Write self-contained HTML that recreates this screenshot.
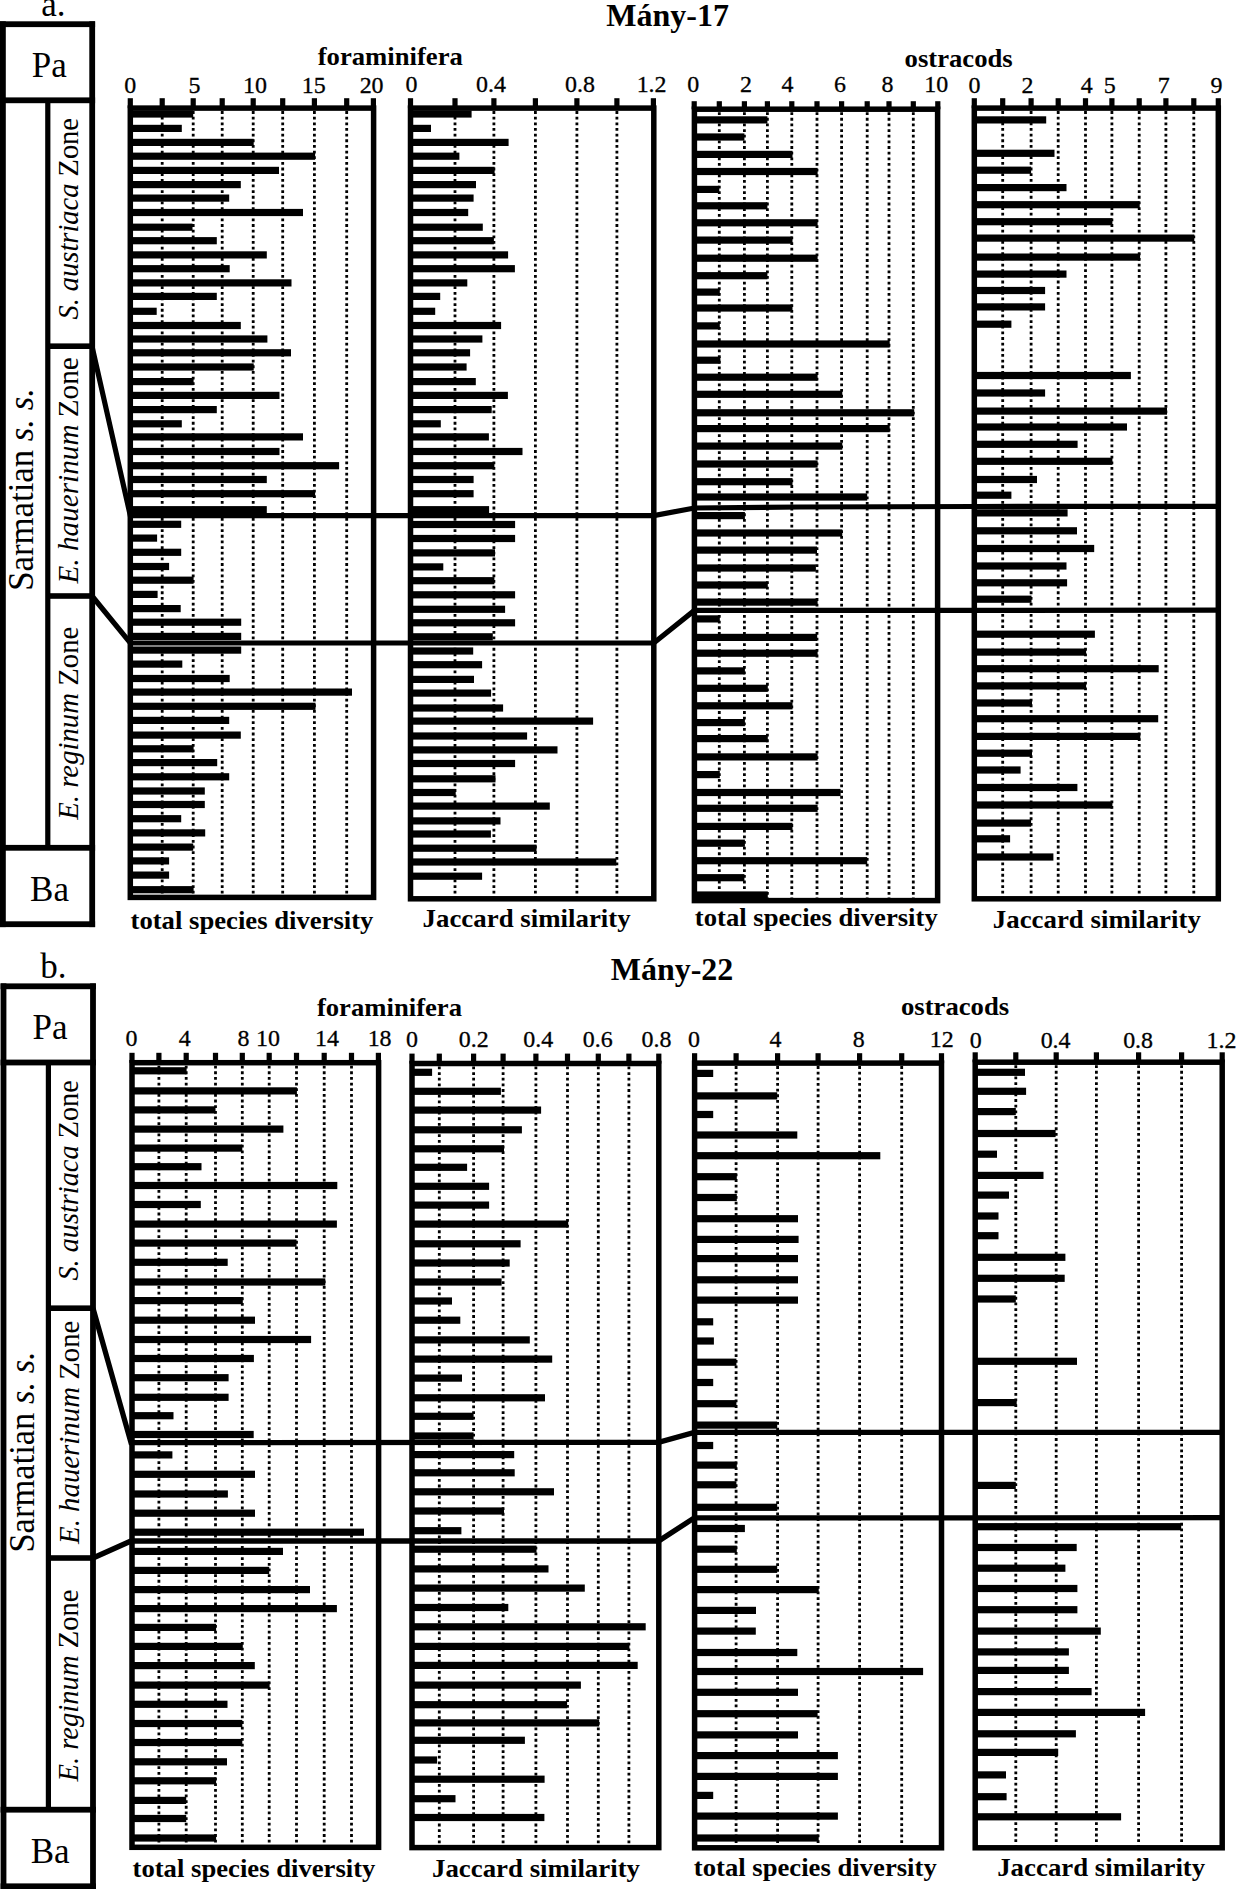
<!DOCTYPE html>
<html><head><meta charset="utf-8"><title>Mány-17 and Mány-22 diversity</title>
<style>html,body{margin:0;padding:0;background:#fff}svg{display:block}</style></head>
<body>
<svg width="1236" height="1889" viewBox="0 0 1236 1889" font-family="'Liberation Serif', 'Times New Roman', serif" fill="#000">
<rect x="0" y="0" width="1236" height="1889" fill="#fff"/>
<g id="A1">
<line x1="162.2" y1="111.1" x2="162.2" y2="897.4" stroke="#000" stroke-width="2.8" stroke-dasharray="2.8 2.85"/>
<line x1="193.2" y1="111.1" x2="193.2" y2="897.4" stroke="#000" stroke-width="2.8" stroke-dasharray="2.8 2.85"/>
<line x1="222.2" y1="111.1" x2="222.2" y2="897.4" stroke="#000" stroke-width="2.8" stroke-dasharray="2.8 2.85"/>
<line x1="253.2" y1="111.1" x2="253.2" y2="897.4" stroke="#000" stroke-width="2.8" stroke-dasharray="2.8 2.85"/>
<line x1="282.7" y1="111.1" x2="282.7" y2="897.4" stroke="#000" stroke-width="2.8" stroke-dasharray="2.8 2.85"/>
<line x1="314.4" y1="111.1" x2="314.4" y2="897.4" stroke="#000" stroke-width="2.8" stroke-dasharray="2.8 2.85"/>
<line x1="346.7" y1="111.1" x2="346.7" y2="897.4" stroke="#000" stroke-width="2.8" stroke-dasharray="2.8 2.85"/>
<rect x="130.3" y="110.4" width="62.9" height="7.2"/>
<rect x="130.3" y="124.8" width="51.5" height="7.2"/>
<rect x="130.3" y="138.8" width="123.4" height="7.2"/>
<rect x="130.3" y="152.6" width="184.8" height="7.2"/>
<rect x="130.3" y="166.8" width="148.7" height="7.2"/>
<rect x="130.3" y="181.0" width="110.5" height="7.2"/>
<rect x="130.3" y="194.5" width="98.9" height="7.2"/>
<rect x="130.3" y="208.9" width="172.7" height="7.2"/>
<rect x="130.3" y="223.6" width="62.2" height="7.2"/>
<rect x="130.3" y="237.1" width="86.5" height="7.2"/>
<rect x="130.3" y="251.3" width="136.5" height="7.2"/>
<rect x="130.3" y="265.1" width="99.4" height="7.2"/>
<rect x="130.3" y="279.3" width="161.2" height="7.2"/>
<rect x="130.3" y="292.8" width="86.5" height="7.2"/>
<rect x="130.3" y="307.7" width="26.4" height="7.2"/>
<rect x="130.3" y="321.9" width="110.5" height="7.2"/>
<rect x="130.3" y="335.4" width="137.1" height="7.2"/>
<rect x="130.3" y="349.2" width="160.7" height="7.2"/>
<rect x="130.3" y="363.4" width="123.4" height="7.2"/>
<rect x="130.3" y="378.0" width="63.3" height="7.2"/>
<rect x="130.3" y="391.8" width="149.2" height="7.2"/>
<rect x="130.3" y="406.0" width="86.5" height="7.2"/>
<rect x="130.3" y="420.2" width="51.5" height="7.2"/>
<rect x="130.3" y="433.3" width="172.7" height="7.2"/>
<rect x="130.3" y="447.9" width="149.2" height="7.2"/>
<rect x="130.3" y="462.1" width="208.8" height="7.2"/>
<rect x="130.3" y="475.9" width="136.5" height="7.2"/>
<rect x="130.3" y="490.1" width="184.8" height="7.2"/>
<rect x="130.3" y="506.1" width="136.5" height="7.2"/>
<rect x="130.3" y="520.7" width="50.9" height="7.2"/>
<rect x="130.3" y="534.5" width="26.8" height="7.2"/>
<rect x="130.3" y="548.7" width="50.9" height="7.2"/>
<rect x="130.3" y="562.9" width="38.8" height="7.2"/>
<rect x="130.3" y="576.6" width="63.3" height="7.2"/>
<rect x="130.3" y="590.8" width="27.3" height="7.2"/>
<rect x="130.3" y="605.0" width="50.4" height="7.2"/>
<rect x="130.3" y="618.6" width="110.9" height="7.2"/>
<rect x="130.3" y="632.8" width="110.9" height="7.2"/>
<rect x="130.3" y="646.5" width="110.9" height="7.2"/>
<rect x="130.3" y="660.5" width="52.0" height="7.2"/>
<rect x="130.3" y="674.9" width="99.4" height="7.2"/>
<rect x="130.3" y="688.5" width="221.7" height="7.2"/>
<rect x="130.3" y="702.7" width="185.2" height="7.2"/>
<rect x="130.3" y="716.8" width="98.9" height="7.2"/>
<rect x="130.3" y="731.5" width="110.5" height="7.2"/>
<rect x="130.3" y="745.2" width="63.3" height="7.2"/>
<rect x="130.3" y="759.0" width="86.9" height="7.2"/>
<rect x="130.3" y="773.2" width="98.9" height="7.2"/>
<rect x="130.3" y="787.4" width="74.5" height="7.2"/>
<rect x="130.3" y="800.9" width="74.5" height="7.2"/>
<rect x="130.3" y="815.1" width="50.9" height="7.2"/>
<rect x="130.3" y="829.3" width="74.9" height="7.2"/>
<rect x="130.3" y="843.5" width="62.9" height="7.2"/>
<rect x="130.3" y="857.3" width="38.8" height="7.2"/>
<rect x="130.3" y="871.5" width="38.8" height="7.2"/>
<rect x="130.3" y="886.1" width="63.3" height="7.2"/>
<rect x="130.3" y="108.1" width="243.3" height="789.3" fill="none" stroke="#000" stroke-width="5.5"/>
<rect x="127.7" y="98.2" width="5.2" height="10.0"/>
<rect x="159.6" y="98.2" width="5.2" height="10.0"/>
<rect x="190.6" y="98.2" width="5.2" height="10.0"/>
<rect x="219.6" y="98.2" width="5.2" height="10.0"/>
<rect x="250.6" y="98.2" width="5.2" height="10.0"/>
<rect x="280.1" y="98.2" width="5.2" height="10.0"/>
<rect x="311.8" y="98.2" width="5.2" height="10.0"/>
<rect x="344.1" y="98.2" width="5.2" height="10.0"/>
<rect x="370.8" y="98.2" width="5.2" height="10.0"/>
</g>
<g id="A2">
<line x1="455.0" y1="111.1" x2="455.0" y2="898.8" stroke="#000" stroke-width="2.8" stroke-dasharray="2.8 2.85"/>
<line x1="493.9" y1="111.1" x2="493.9" y2="898.8" stroke="#000" stroke-width="2.8" stroke-dasharray="2.8 2.85"/>
<line x1="535.4" y1="111.1" x2="535.4" y2="898.8" stroke="#000" stroke-width="2.8" stroke-dasharray="2.8 2.85"/>
<line x1="576.9" y1="111.1" x2="576.9" y2="898.8" stroke="#000" stroke-width="2.8" stroke-dasharray="2.8 2.85"/>
<line x1="616.9" y1="111.1" x2="616.9" y2="898.8" stroke="#000" stroke-width="2.8" stroke-dasharray="2.8 2.85"/>
<rect x="410.5" y="110.4" width="61.1" height="7.2"/>
<rect x="410.5" y="124.8" width="20.5" height="7.2"/>
<rect x="410.5" y="138.8" width="98.1" height="7.2"/>
<rect x="410.5" y="152.6" width="48.9" height="7.2"/>
<rect x="410.5" y="166.8" width="84.1" height="7.2"/>
<rect x="410.5" y="181.0" width="65.5" height="7.2"/>
<rect x="410.5" y="194.5" width="63.1" height="7.2"/>
<rect x="410.5" y="208.9" width="57.7" height="7.2"/>
<rect x="410.5" y="223.6" width="72.3" height="7.2"/>
<rect x="410.5" y="237.1" width="83.4" height="7.2"/>
<rect x="410.5" y="251.3" width="97.6" height="7.2"/>
<rect x="410.5" y="265.1" width="104.4" height="7.2"/>
<rect x="410.5" y="279.3" width="56.8" height="7.2"/>
<rect x="410.5" y="292.8" width="29.7" height="7.2"/>
<rect x="410.5" y="307.7" width="24.7" height="7.2"/>
<rect x="410.5" y="321.9" width="90.6" height="7.2"/>
<rect x="410.5" y="335.4" width="71.9" height="7.2"/>
<rect x="410.5" y="349.2" width="59.6" height="7.2"/>
<rect x="410.5" y="363.4" width="56.1" height="7.2"/>
<rect x="410.5" y="378.0" width="65.3" height="7.2"/>
<rect x="410.5" y="391.8" width="97.4" height="7.2"/>
<rect x="410.5" y="406.0" width="81.2" height="7.2"/>
<rect x="410.5" y="420.2" width="30.3" height="7.2"/>
<rect x="410.5" y="433.3" width="78.4" height="7.2"/>
<rect x="410.5" y="447.9" width="112.0" height="7.2"/>
<rect x="410.5" y="462.1" width="83.9" height="7.2"/>
<rect x="410.5" y="475.9" width="63.1" height="7.2"/>
<rect x="410.5" y="490.1" width="63.1" height="7.2"/>
<rect x="410.5" y="506.1" width="78.6" height="7.2"/>
<rect x="410.5" y="520.9" width="104.6" height="7.2"/>
<rect x="410.5" y="534.9" width="104.6" height="7.2"/>
<rect x="410.5" y="549.3" width="84.5" height="7.2"/>
<rect x="410.5" y="563.3" width="32.8" height="7.2"/>
<rect x="410.5" y="577.1" width="83.9" height="7.2"/>
<rect x="410.5" y="591.2" width="104.6" height="7.2"/>
<rect x="410.5" y="605.7" width="94.6" height="7.2"/>
<rect x="410.5" y="619.2" width="104.6" height="7.2"/>
<rect x="410.5" y="633.2" width="82.3" height="7.2"/>
<rect x="410.5" y="647.4" width="62.7" height="7.2"/>
<rect x="410.5" y="661.1" width="71.6" height="7.2"/>
<rect x="410.5" y="675.8" width="63.5" height="7.2"/>
<rect x="410.5" y="689.5" width="80.6" height="7.2"/>
<rect x="410.5" y="704.4" width="92.6" height="7.2"/>
<rect x="410.5" y="717.5" width="182.6" height="7.2"/>
<rect x="410.5" y="732.4" width="116.6" height="7.2"/>
<rect x="410.5" y="746.3" width="147.0" height="7.2"/>
<rect x="410.5" y="759.9" width="104.6" height="7.2"/>
<rect x="410.5" y="775.2" width="85.0" height="7.2"/>
<rect x="410.5" y="788.9" width="45.2" height="7.2"/>
<rect x="410.5" y="802.5" width="139.3" height="7.2"/>
<rect x="410.5" y="817.3" width="90.0" height="7.2"/>
<rect x="410.5" y="830.4" width="80.4" height="7.2"/>
<rect x="410.5" y="844.6" width="126.0" height="7.2"/>
<rect x="410.5" y="858.4" width="205.8" height="7.2"/>
<rect x="410.5" y="872.6" width="71.6" height="7.2"/>
<rect x="410.5" y="108.1" width="243.3" height="790.7" fill="none" stroke="#000" stroke-width="5.5"/>
<rect x="407.9" y="98.2" width="5.2" height="10.0"/>
<rect x="452.4" y="98.2" width="5.2" height="10.0"/>
<rect x="491.3" y="98.2" width="5.2" height="10.0"/>
<rect x="532.8" y="98.2" width="5.2" height="10.0"/>
<rect x="574.3" y="98.2" width="5.2" height="10.0"/>
<rect x="614.3" y="98.2" width="5.2" height="10.0"/>
<rect x="650.8" y="98.2" width="5.2" height="10.0"/>
</g>
<g id="A3">
<line x1="719.3" y1="112.2" x2="719.3" y2="900.6" stroke="#000" stroke-width="2.8" stroke-dasharray="2.8 2.85"/>
<line x1="744.4" y1="112.2" x2="744.4" y2="900.6" stroke="#000" stroke-width="2.8" stroke-dasharray="2.8 2.85"/>
<line x1="767.4" y1="112.2" x2="767.4" y2="900.6" stroke="#000" stroke-width="2.8" stroke-dasharray="2.8 2.85"/>
<line x1="791.8" y1="112.2" x2="791.8" y2="900.6" stroke="#000" stroke-width="2.8" stroke-dasharray="2.8 2.85"/>
<line x1="817.0" y1="112.2" x2="817.0" y2="900.6" stroke="#000" stroke-width="2.8" stroke-dasharray="2.8 2.85"/>
<line x1="841.6" y1="112.2" x2="841.6" y2="900.6" stroke="#000" stroke-width="2.8" stroke-dasharray="2.8 2.85"/>
<line x1="867.2" y1="112.2" x2="867.2" y2="900.6" stroke="#000" stroke-width="2.8" stroke-dasharray="2.8 2.85"/>
<line x1="889.0" y1="112.2" x2="889.0" y2="900.6" stroke="#000" stroke-width="2.8" stroke-dasharray="2.8 2.85"/>
<line x1="913.3" y1="112.2" x2="913.3" y2="900.6" stroke="#000" stroke-width="2.8" stroke-dasharray="2.8 2.85"/>
<rect x="694.4" y="116.3" width="73.0" height="7.2"/>
<rect x="694.4" y="133.4" width="50.0" height="7.2"/>
<rect x="694.4" y="150.8" width="98.1" height="7.2"/>
<rect x="694.4" y="167.9" width="123.2" height="7.2"/>
<rect x="694.4" y="185.8" width="24.9" height="7.2"/>
<rect x="694.4" y="202.2" width="73.0" height="7.2"/>
<rect x="694.4" y="219.2" width="123.2" height="7.2"/>
<rect x="694.4" y="236.5" width="98.1" height="7.2"/>
<rect x="694.4" y="254.6" width="123.2" height="7.2"/>
<rect x="694.4" y="272.1" width="73.0" height="7.2"/>
<rect x="694.4" y="288.5" width="25.4" height="7.2"/>
<rect x="694.4" y="304.4" width="98.1" height="7.2"/>
<rect x="694.4" y="322.3" width="25.4" height="7.2"/>
<rect x="694.4" y="340.4" width="195.3" height="7.2"/>
<rect x="694.4" y="356.6" width="26.0" height="7.2"/>
<rect x="694.4" y="373.6" width="123.2" height="7.2"/>
<rect x="694.4" y="390.7" width="147.9" height="7.2"/>
<rect x="694.4" y="409.2" width="219.8" height="7.2"/>
<rect x="694.4" y="425.0" width="195.3" height="7.2"/>
<rect x="694.4" y="442.5" width="147.9" height="7.2"/>
<rect x="694.4" y="460.4" width="123.2" height="7.2"/>
<rect x="694.4" y="478.1" width="98.1" height="7.2"/>
<rect x="694.4" y="493.4" width="172.8" height="7.2"/>
<rect x="694.4" y="512.0" width="50.5" height="7.2"/>
<rect x="694.4" y="529.4" width="147.9" height="7.2"/>
<rect x="694.4" y="546.5" width="122.6" height="7.2"/>
<rect x="694.4" y="564.4" width="121.5" height="7.2"/>
<rect x="694.4" y="581.4" width="73.4" height="7.2"/>
<rect x="694.4" y="598.5" width="123.2" height="7.2"/>
<rect x="694.4" y="615.3" width="25.4" height="7.2"/>
<rect x="694.4" y="633.8" width="122.8" height="7.2"/>
<rect x="694.4" y="649.6" width="123.2" height="7.2"/>
<rect x="694.4" y="667.3" width="50.5" height="7.2"/>
<rect x="694.4" y="684.7" width="73.4" height="7.2"/>
<rect x="694.4" y="702.2" width="98.1" height="7.2"/>
<rect x="694.4" y="719.0" width="50.5" height="7.2"/>
<rect x="694.4" y="735.0" width="73.4" height="7.2"/>
<rect x="694.4" y="753.3" width="123.2" height="7.2"/>
<rect x="694.4" y="771.0" width="25.4" height="7.2"/>
<rect x="694.4" y="788.9" width="146.2" height="7.2"/>
<rect x="694.4" y="804.7" width="123.2" height="7.2"/>
<rect x="694.4" y="822.8" width="98.1" height="7.2"/>
<rect x="694.4" y="839.6" width="50.5" height="7.2"/>
<rect x="694.4" y="857.1" width="172.8" height="7.2"/>
<rect x="694.4" y="874.1" width="50.0" height="7.2"/>
<rect x="694.4" y="891.4" width="73.4" height="7.2"/>
<rect x="694.4" y="109.2" width="243.2" height="791.4" fill="none" stroke="#000" stroke-width="5.5"/>
<rect x="691.6" y="101.2" width="5.2" height="8.1"/>
<rect x="716.7" y="101.2" width="5.2" height="8.1"/>
<rect x="741.8" y="101.2" width="5.2" height="8.1"/>
<rect x="764.8" y="101.2" width="5.2" height="8.1"/>
<rect x="789.2" y="101.2" width="5.2" height="8.1"/>
<rect x="814.4" y="101.2" width="5.2" height="8.1"/>
<rect x="839.0" y="101.2" width="5.2" height="8.1"/>
<rect x="864.6" y="101.2" width="5.2" height="8.1"/>
<rect x="886.4" y="101.2" width="5.2" height="8.1"/>
<rect x="910.7" y="101.2" width="5.2" height="8.1"/>
<rect x="935.2" y="101.2" width="5.2" height="8.1"/>
</g>
<g id="A4">
<line x1="1002.7" y1="111.1" x2="1002.7" y2="898.8" stroke="#000" stroke-width="2.8" stroke-dasharray="2.8 2.85"/>
<line x1="1031.1" y1="111.1" x2="1031.1" y2="898.8" stroke="#000" stroke-width="2.8" stroke-dasharray="2.8 2.85"/>
<line x1="1058.2" y1="111.1" x2="1058.2" y2="898.8" stroke="#000" stroke-width="2.8" stroke-dasharray="2.8 2.85"/>
<line x1="1085.5" y1="111.1" x2="1085.5" y2="898.8" stroke="#000" stroke-width="2.8" stroke-dasharray="2.8 2.85"/>
<line x1="1111.9" y1="111.1" x2="1111.9" y2="898.8" stroke="#000" stroke-width="2.8" stroke-dasharray="2.8 2.85"/>
<line x1="1139.2" y1="111.1" x2="1139.2" y2="898.8" stroke="#000" stroke-width="2.8" stroke-dasharray="2.8 2.85"/>
<line x1="1165.9" y1="111.1" x2="1165.9" y2="898.8" stroke="#000" stroke-width="2.8" stroke-dasharray="2.8 2.85"/>
<line x1="1193.8" y1="111.1" x2="1193.8" y2="898.8" stroke="#000" stroke-width="2.8" stroke-dasharray="2.8 2.85"/>
<rect x="974.3" y="116.3" width="71.9" height="7.2"/>
<rect x="974.3" y="149.7" width="80.2" height="7.2"/>
<rect x="974.3" y="166.6" width="56.8" height="7.2"/>
<rect x="974.3" y="184.0" width="92.2" height="7.2"/>
<rect x="974.3" y="201.1" width="165.4" height="7.2"/>
<rect x="974.3" y="218.1" width="138.1" height="7.2"/>
<rect x="974.3" y="234.5" width="220.0" height="7.2"/>
<rect x="974.3" y="253.5" width="165.8" height="7.2"/>
<rect x="974.3" y="270.5" width="92.2" height="7.2"/>
<rect x="974.3" y="286.9" width="70.8" height="7.2"/>
<rect x="974.3" y="303.3" width="70.8" height="7.2"/>
<rect x="974.3" y="320.6" width="37.1" height="7.2"/>
<rect x="974.3" y="371.9" width="156.6" height="7.2"/>
<rect x="974.3" y="389.4" width="70.8" height="7.2"/>
<rect x="974.3" y="407.5" width="192.7" height="7.2"/>
<rect x="974.3" y="423.4" width="152.7" height="7.2"/>
<rect x="974.3" y="440.7" width="103.3" height="7.2"/>
<rect x="974.3" y="457.7" width="138.1" height="7.2"/>
<rect x="974.3" y="475.9" width="62.7" height="7.2"/>
<rect x="974.3" y="491.6" width="37.1" height="7.2"/>
<rect x="974.3" y="509.3" width="93.3" height="7.2"/>
<rect x="974.3" y="527.2" width="102.7" height="7.2"/>
<rect x="974.3" y="544.9" width="119.9" height="7.2"/>
<rect x="974.3" y="562.4" width="92.2" height="7.2"/>
<rect x="974.3" y="579.2" width="92.8" height="7.2"/>
<rect x="974.3" y="595.6" width="57.2" height="7.2"/>
<rect x="974.3" y="630.6" width="120.6" height="7.2"/>
<rect x="974.3" y="648.5" width="111.8" height="7.2"/>
<rect x="974.3" y="665.1" width="184.4" height="7.2"/>
<rect x="974.3" y="682.3" width="111.8" height="7.2"/>
<rect x="974.3" y="699.4" width="57.7" height="7.2"/>
<rect x="974.3" y="715.1" width="183.9" height="7.2"/>
<rect x="974.3" y="732.8" width="166.0" height="7.2"/>
<rect x="974.3" y="749.6" width="57.7" height="7.2"/>
<rect x="974.3" y="766.4" width="46.3" height="7.2"/>
<rect x="974.3" y="783.9" width="103.1" height="7.2"/>
<rect x="974.3" y="801.4" width="138.1" height="7.2"/>
<rect x="974.3" y="819.5" width="56.8" height="7.2"/>
<rect x="974.3" y="835.2" width="35.8" height="7.2"/>
<rect x="974.3" y="853.4" width="79.1" height="7.2"/>
<rect x="974.3" y="108.1" width="244.0" height="790.7" fill="none" stroke="#000" stroke-width="5.5"/>
<rect x="971.7" y="98.2" width="5.2" height="10.0"/>
<rect x="1000.1" y="98.2" width="5.2" height="10.0"/>
<rect x="1028.5" y="98.2" width="5.2" height="10.0"/>
<rect x="1055.6" y="98.2" width="5.2" height="10.0"/>
<rect x="1082.9" y="98.2" width="5.2" height="10.0"/>
<rect x="1109.3" y="98.2" width="5.2" height="10.0"/>
<rect x="1136.6" y="98.2" width="5.2" height="10.0"/>
<rect x="1163.3" y="98.2" width="5.2" height="10.0"/>
<rect x="1191.2" y="98.2" width="5.2" height="10.0"/>
<rect x="1215.7" y="98.2" width="5.2" height="10.0"/>
</g>
<g id="B1">
<line x1="158.9" y1="1065.7" x2="158.9" y2="1847.3" stroke="#000" stroke-width="2.8" stroke-dasharray="2.8 2.85"/>
<line x1="186.2" y1="1065.7" x2="186.2" y2="1847.3" stroke="#000" stroke-width="2.8" stroke-dasharray="2.8 2.85"/>
<line x1="215.5" y1="1065.7" x2="215.5" y2="1847.3" stroke="#000" stroke-width="2.8" stroke-dasharray="2.8 2.85"/>
<line x1="242.3" y1="1065.7" x2="242.3" y2="1847.3" stroke="#000" stroke-width="2.8" stroke-dasharray="2.8 2.85"/>
<line x1="269.2" y1="1065.7" x2="269.2" y2="1847.3" stroke="#000" stroke-width="2.8" stroke-dasharray="2.8 2.85"/>
<line x1="296.5" y1="1065.7" x2="296.5" y2="1847.3" stroke="#000" stroke-width="2.8" stroke-dasharray="2.8 2.85"/>
<line x1="324.2" y1="1065.7" x2="324.2" y2="1847.3" stroke="#000" stroke-width="2.8" stroke-dasharray="2.8 2.85"/>
<line x1="351.5" y1="1065.7" x2="351.5" y2="1847.3" stroke="#000" stroke-width="2.8" stroke-dasharray="2.8 2.85"/>
<rect x="132.0" y="1067.2" width="54.6" height="7.2"/>
<rect x="132.0" y="1087.3" width="164.9" height="7.2"/>
<rect x="132.0" y="1106.3" width="83.5" height="7.2"/>
<rect x="132.0" y="1125.5" width="151.4" height="7.2"/>
<rect x="132.0" y="1144.5" width="110.3" height="7.2"/>
<rect x="132.0" y="1163.1" width="69.5" height="7.2"/>
<rect x="132.0" y="1181.9" width="205.3" height="7.2"/>
<rect x="132.0" y="1200.9" width="68.8" height="7.2"/>
<rect x="132.0" y="1220.5" width="204.9" height="7.2"/>
<rect x="132.0" y="1239.5" width="164.5" height="7.2"/>
<rect x="132.0" y="1258.7" width="95.7" height="7.2"/>
<rect x="132.0" y="1278.4" width="193.3" height="7.2"/>
<rect x="132.0" y="1297.0" width="110.8" height="7.2"/>
<rect x="132.0" y="1316.6" width="123.0" height="7.2"/>
<rect x="132.0" y="1335.9" width="179.1" height="7.2"/>
<rect x="132.0" y="1354.9" width="121.9" height="7.2"/>
<rect x="132.0" y="1374.1" width="96.6" height="7.2"/>
<rect x="132.0" y="1393.7" width="96.6" height="7.2"/>
<rect x="132.0" y="1412.1" width="41.5" height="7.2"/>
<rect x="132.0" y="1430.9" width="121.7" height="7.2"/>
<rect x="132.0" y="1451.3" width="40.4" height="7.2"/>
<rect x="132.0" y="1470.7" width="123.0" height="7.2"/>
<rect x="132.0" y="1490.4" width="95.9" height="7.2"/>
<rect x="132.0" y="1509.6" width="123.0" height="7.2"/>
<rect x="132.0" y="1528.6" width="232.0" height="7.2"/>
<rect x="132.0" y="1547.8" width="151.0" height="7.2"/>
<rect x="132.0" y="1566.8" width="137.2" height="7.2"/>
<rect x="132.0" y="1586.0" width="178.0" height="7.2"/>
<rect x="132.0" y="1605.0" width="204.9" height="7.2"/>
<rect x="132.0" y="1623.8" width="84.1" height="7.2"/>
<rect x="132.0" y="1642.8" width="110.8" height="7.2"/>
<rect x="132.0" y="1662.0" width="122.8" height="7.2"/>
<rect x="132.0" y="1681.5" width="137.6" height="7.2"/>
<rect x="132.0" y="1700.7" width="95.5" height="7.2"/>
<rect x="132.0" y="1719.9" width="110.3" height="7.2"/>
<rect x="132.0" y="1738.9" width="110.3" height="7.2"/>
<rect x="132.0" y="1758.2" width="95.0" height="7.2"/>
<rect x="132.0" y="1777.2" width="84.1" height="7.2"/>
<rect x="132.0" y="1796.8" width="54.2" height="7.2"/>
<rect x="132.0" y="1814.9" width="54.2" height="7.2"/>
<rect x="132.0" y="1834.4" width="84.1" height="7.2"/>
<rect x="132.0" y="1062.7" width="246.6" height="784.6" fill="none" stroke="#000" stroke-width="5.5"/>
<rect x="129.4" y="1052.8" width="5.2" height="10.0"/>
<rect x="156.3" y="1052.8" width="5.2" height="10.0"/>
<rect x="183.6" y="1052.8" width="5.2" height="10.0"/>
<rect x="212.9" y="1052.8" width="5.2" height="10.0"/>
<rect x="239.7" y="1052.8" width="5.2" height="10.0"/>
<rect x="266.6" y="1052.8" width="5.2" height="10.0"/>
<rect x="293.9" y="1052.8" width="5.2" height="10.0"/>
<rect x="321.6" y="1052.8" width="5.2" height="10.0"/>
<rect x="348.9" y="1052.8" width="5.2" height="10.0"/>
<rect x="375.8" y="1052.8" width="5.2" height="10.0"/>
</g>
<g id="B2">
<line x1="439.3" y1="1066.5" x2="439.3" y2="1847.6" stroke="#000" stroke-width="2.8" stroke-dasharray="2.8 2.85"/>
<line x1="473.6" y1="1066.5" x2="473.6" y2="1847.6" stroke="#000" stroke-width="2.8" stroke-dasharray="2.8 2.85"/>
<line x1="503.1" y1="1066.5" x2="503.1" y2="1847.6" stroke="#000" stroke-width="2.8" stroke-dasharray="2.8 2.85"/>
<line x1="535.9" y1="1066.5" x2="535.9" y2="1847.6" stroke="#000" stroke-width="2.8" stroke-dasharray="2.8 2.85"/>
<line x1="567.5" y1="1066.5" x2="567.5" y2="1847.6" stroke="#000" stroke-width="2.8" stroke-dasharray="2.8 2.85"/>
<line x1="598.3" y1="1066.5" x2="598.3" y2="1847.6" stroke="#000" stroke-width="2.8" stroke-dasharray="2.8 2.85"/>
<line x1="628.9" y1="1066.5" x2="628.9" y2="1847.6" stroke="#000" stroke-width="2.8" stroke-dasharray="2.8 2.85"/>
<rect x="412.0" y="1068.7" width="20.1" height="7.2"/>
<rect x="412.0" y="1087.7" width="88.9" height="7.2"/>
<rect x="412.0" y="1106.5" width="129.1" height="7.2"/>
<rect x="412.0" y="1126.2" width="109.9" height="7.2"/>
<rect x="412.0" y="1145.2" width="92.0" height="7.2"/>
<rect x="412.0" y="1163.7" width="55.1" height="7.2"/>
<rect x="412.0" y="1182.7" width="77.1" height="7.2"/>
<rect x="412.0" y="1201.5" width="77.1" height="7.2"/>
<rect x="412.0" y="1220.5" width="156.2" height="7.2"/>
<rect x="412.0" y="1240.2" width="108.6" height="7.2"/>
<rect x="412.0" y="1259.4" width="97.7" height="7.2"/>
<rect x="412.0" y="1278.4" width="89.6" height="7.2"/>
<rect x="412.0" y="1297.4" width="40.0" height="7.2"/>
<rect x="412.0" y="1316.6" width="48.3" height="7.2"/>
<rect x="412.0" y="1336.3" width="117.8" height="7.2"/>
<rect x="412.0" y="1355.5" width="140.2" height="7.2"/>
<rect x="412.0" y="1374.5" width="50.0" height="7.2"/>
<rect x="412.0" y="1394.2" width="133.0" height="7.2"/>
<rect x="412.0" y="1412.7" width="61.6" height="7.2"/>
<rect x="412.0" y="1432.4" width="61.6" height="7.2"/>
<rect x="412.0" y="1451.0" width="102.2" height="7.2"/>
<rect x="412.0" y="1469.2" width="102.7" height="7.2"/>
<rect x="412.0" y="1488.2" width="142.0" height="7.2"/>
<rect x="412.0" y="1507.4" width="92.0" height="7.2"/>
<rect x="412.0" y="1527.1" width="49.4" height="7.2"/>
<rect x="412.0" y="1545.6" width="124.5" height="7.2"/>
<rect x="412.0" y="1565.3" width="136.5" height="7.2"/>
<rect x="412.0" y="1584.5" width="172.8" height="7.2"/>
<rect x="412.0" y="1603.9" width="96.3" height="7.2"/>
<rect x="412.0" y="1623.2" width="233.7" height="7.2"/>
<rect x="412.0" y="1642.8" width="217.4" height="7.2"/>
<rect x="412.0" y="1661.8" width="225.7" height="7.2"/>
<rect x="412.0" y="1681.5" width="168.9" height="7.2"/>
<rect x="412.0" y="1701.1" width="155.1" height="7.2"/>
<rect x="412.0" y="1719.3" width="187.2" height="7.2"/>
<rect x="412.0" y="1736.7" width="112.9" height="7.2"/>
<rect x="412.0" y="1756.4" width="25.1" height="7.2"/>
<rect x="412.0" y="1775.6" width="132.6" height="7.2"/>
<rect x="412.0" y="1795.1" width="43.5" height="7.2"/>
<rect x="412.0" y="1813.9" width="132.4" height="7.2"/>
<rect x="412.0" y="1063.5" width="246.8" height="784.1" fill="none" stroke="#000" stroke-width="5.5"/>
<rect x="409.4" y="1053.6" width="5.2" height="10.0"/>
<rect x="436.7" y="1053.6" width="5.2" height="10.0"/>
<rect x="471.0" y="1053.6" width="5.2" height="10.0"/>
<rect x="500.5" y="1053.6" width="5.2" height="10.0"/>
<rect x="533.3" y="1053.6" width="5.2" height="10.0"/>
<rect x="564.9" y="1053.6" width="5.2" height="10.0"/>
<rect x="595.7" y="1053.6" width="5.2" height="10.0"/>
<rect x="626.3" y="1053.6" width="5.2" height="10.0"/>
<rect x="656.2" y="1053.6" width="5.2" height="10.0"/>
</g>
<g id="B3">
<line x1="736.1" y1="1066.1" x2="736.1" y2="1847.8" stroke="#000" stroke-width="2.8" stroke-dasharray="2.8 2.85"/>
<line x1="777.6" y1="1066.1" x2="777.6" y2="1847.8" stroke="#000" stroke-width="2.8" stroke-dasharray="2.8 2.85"/>
<line x1="818.1" y1="1066.1" x2="818.1" y2="1847.8" stroke="#000" stroke-width="2.8" stroke-dasharray="2.8 2.85"/>
<line x1="859.6" y1="1066.1" x2="859.6" y2="1847.8" stroke="#000" stroke-width="2.8" stroke-dasharray="2.8 2.85"/>
<line x1="901.7" y1="1066.1" x2="901.7" y2="1847.8" stroke="#000" stroke-width="2.8" stroke-dasharray="2.8 2.85"/>
<rect x="694.6" y="1069.8" width="18.6" height="7.2"/>
<rect x="694.6" y="1092.3" width="82.6" height="7.2"/>
<rect x="694.6" y="1110.9" width="18.6" height="7.2"/>
<rect x="694.6" y="1131.4" width="102.7" height="7.2"/>
<rect x="694.6" y="1152.1" width="185.7" height="7.2"/>
<rect x="694.6" y="1173.1" width="42.2" height="7.2"/>
<rect x="694.6" y="1193.9" width="42.2" height="7.2"/>
<rect x="694.6" y="1215.1" width="103.4" height="7.2"/>
<rect x="694.6" y="1235.8" width="104.0" height="7.2"/>
<rect x="694.6" y="1255.0" width="103.4" height="7.2"/>
<rect x="694.6" y="1276.2" width="103.4" height="7.2"/>
<rect x="694.6" y="1296.5" width="103.4" height="7.2"/>
<rect x="694.6" y="1318.2" width="18.6" height="7.2"/>
<rect x="694.6" y="1337.4" width="19.3" height="7.2"/>
<rect x="694.6" y="1358.6" width="41.8" height="7.2"/>
<rect x="694.6" y="1378.9" width="18.6" height="7.2"/>
<rect x="694.6" y="1400.1" width="41.8" height="7.2"/>
<rect x="694.6" y="1421.5" width="82.6" height="7.2"/>
<rect x="694.6" y="1441.9" width="18.6" height="7.2"/>
<rect x="694.6" y="1461.5" width="42.2" height="7.2"/>
<rect x="694.6" y="1481.2" width="41.8" height="7.2"/>
<rect x="694.6" y="1503.7" width="82.6" height="7.2"/>
<rect x="694.6" y="1524.9" width="50.3" height="7.2"/>
<rect x="694.6" y="1545.6" width="42.2" height="7.2"/>
<rect x="694.6" y="1565.7" width="82.6" height="7.2"/>
<rect x="694.6" y="1586.0" width="124.1" height="7.2"/>
<rect x="694.6" y="1606.8" width="61.4" height="7.2"/>
<rect x="694.6" y="1627.5" width="61.2" height="7.2"/>
<rect x="694.6" y="1648.9" width="102.7" height="7.2"/>
<rect x="694.6" y="1667.9" width="228.5" height="7.2"/>
<rect x="694.6" y="1688.7" width="103.4" height="7.2"/>
<rect x="694.6" y="1710.1" width="123.0" height="7.2"/>
<rect x="694.6" y="1731.3" width="103.4" height="7.2"/>
<rect x="694.6" y="1752.0" width="143.3" height="7.2"/>
<rect x="694.6" y="1772.8" width="143.3" height="7.2"/>
<rect x="694.6" y="1791.8" width="18.6" height="7.2"/>
<rect x="694.6" y="1812.5" width="143.3" height="7.2"/>
<rect x="694.6" y="1834.4" width="124.1" height="7.2"/>
<rect x="694.6" y="1063.1" width="246.9" height="784.7" fill="none" stroke="#000" stroke-width="5.5"/>
<rect x="692.0" y="1053.2" width="5.2" height="10.0"/>
<rect x="733.5" y="1053.2" width="5.2" height="10.0"/>
<rect x="775.0" y="1053.2" width="5.2" height="10.0"/>
<rect x="815.5" y="1053.2" width="5.2" height="10.0"/>
<rect x="857.0" y="1053.2" width="5.2" height="10.0"/>
<rect x="899.1" y="1053.2" width="5.2" height="10.0"/>
<rect x="938.9" y="1053.2" width="5.2" height="10.0"/>
</g>
<g id="B4">
<line x1="1015.8" y1="1065.2" x2="1015.8" y2="1847.8" stroke="#000" stroke-width="2.8" stroke-dasharray="2.8 2.85"/>
<line x1="1056.2" y1="1065.2" x2="1056.2" y2="1847.8" stroke="#000" stroke-width="2.8" stroke-dasharray="2.8 2.85"/>
<line x1="1096.4" y1="1065.2" x2="1096.4" y2="1847.8" stroke="#000" stroke-width="2.8" stroke-dasharray="2.8 2.85"/>
<line x1="1138.6" y1="1065.2" x2="1138.6" y2="1847.8" stroke="#000" stroke-width="2.8" stroke-dasharray="2.8 2.85"/>
<line x1="1181.6" y1="1065.2" x2="1181.6" y2="1847.8" stroke="#000" stroke-width="2.8" stroke-dasharray="2.8 2.85"/>
<rect x="975.2" y="1068.7" width="49.8" height="7.2"/>
<rect x="975.2" y="1087.7" width="50.9" height="7.2"/>
<rect x="975.2" y="1108.0" width="40.6" height="7.2"/>
<rect x="975.2" y="1129.9" width="80.4" height="7.2"/>
<rect x="975.2" y="1150.6" width="21.8" height="7.2"/>
<rect x="975.2" y="1171.8" width="68.3" height="7.2"/>
<rect x="975.2" y="1191.5" width="33.8" height="7.2"/>
<rect x="975.2" y="1212.4" width="23.3" height="7.2"/>
<rect x="975.2" y="1232.1" width="23.3" height="7.2"/>
<rect x="975.2" y="1253.7" width="90.2" height="7.2"/>
<rect x="975.2" y="1274.7" width="89.5" height="7.2"/>
<rect x="975.2" y="1295.4" width="40.6" height="7.2"/>
<rect x="975.2" y="1357.7" width="101.8" height="7.2"/>
<rect x="975.2" y="1399.0" width="41.5" height="7.2"/>
<rect x="975.2" y="1481.8" width="40.6" height="7.2"/>
<rect x="975.2" y="1523.1" width="206.0" height="7.2"/>
<rect x="975.2" y="1543.9" width="101.5" height="7.2"/>
<rect x="975.2" y="1564.6" width="90.2" height="7.2"/>
<rect x="975.2" y="1584.9" width="102.2" height="7.2"/>
<rect x="975.2" y="1606.1" width="102.2" height="7.2"/>
<rect x="975.2" y="1627.5" width="125.6" height="7.2"/>
<rect x="975.2" y="1648.3" width="93.7" height="7.2"/>
<rect x="975.2" y="1666.8" width="93.7" height="7.2"/>
<rect x="975.2" y="1688.0" width="116.4" height="7.2"/>
<rect x="975.2" y="1708.8" width="169.9" height="7.2"/>
<rect x="975.2" y="1730.2" width="100.7" height="7.2"/>
<rect x="975.2" y="1748.8" width="83.0" height="7.2"/>
<rect x="975.2" y="1771.3" width="30.8" height="7.2"/>
<rect x="975.2" y="1793.1" width="31.4" height="7.2"/>
<rect x="975.2" y="1813.2" width="145.9" height="7.2"/>
<rect x="975.2" y="1062.2" width="247.0" height="785.6" fill="none" stroke="#000" stroke-width="5.5"/>
<rect x="972.6" y="1052.3" width="5.2" height="10.0"/>
<rect x="1013.2" y="1052.3" width="5.2" height="10.0"/>
<rect x="1053.6" y="1052.3" width="5.2" height="10.0"/>
<rect x="1093.8" y="1052.3" width="5.2" height="10.0"/>
<rect x="1136.0" y="1052.3" width="5.2" height="10.0"/>
<rect x="1179.0" y="1052.3" width="5.2" height="10.0"/>
<rect x="1219.6" y="1052.3" width="5.2" height="10.0"/>
</g>
<polyline fill="none" stroke="#000" stroke-width="5.2" stroke-linejoin="miter" points="92.0,346.2 130.3,515.6 653.8,515.6 694.4,508.0 800.0,507.0 975.0,506.5 1218.3,506.3"/>
<polyline fill="none" stroke="#000" stroke-width="5.2" stroke-linejoin="miter" points="92.0,596.0 130.3,643.0 653.8,643.0 694.4,610.4 1218.3,610.2"/>
<polyline fill="none" stroke="#000" stroke-width="5.3" stroke-linejoin="miter" points="93.0,1308.2 131.0,1442.6 658.6,1442.4 694.3,1432.4 1222.2,1432.3"/>
<polyline fill="none" stroke="#000" stroke-width="5.3" stroke-linejoin="miter" points="93.0,1558.0 131.0,1541.0 658.6,1541.0 694.3,1517.9 1222.2,1517.7"/>
<rect x="0" y="21.3" width="5.8" height="905.8"/>
<rect x="89.3" y="21.3" width="5.8" height="905.8"/>
<rect x="0" y="21.3" width="95.1" height="5.8"/>
<rect x="0" y="97.4" width="95.1" height="5.8"/>
<rect x="0" y="844.9" width="95.1" height="5.8"/>
<rect x="0" y="921.3" width="95.1" height="5.8"/>
<rect x="45.2" y="100.3" width="5.2" height="747.5"/>
<rect x="47.8" y="343.4" width="44.4" height="5.6"/>
<rect x="47.8" y="593.2" width="44.4" height="5.6"/>
<rect x="0.6" y="983.4" width="5.8" height="905.8"/>
<rect x="90.1" y="983.4" width="5.8" height="905.8"/>
<rect x="0.6" y="983.4" width="95.3" height="5.8"/>
<rect x="0.6" y="1059.6" width="95.3" height="5.8"/>
<rect x="0.6" y="1806.8" width="95.3" height="5.8"/>
<rect x="0.6" y="1883.4" width="95.3" height="5.8"/>
<rect x="45.8" y="1062.5" width="5.2" height="747.2"/>
<rect x="48.4" y="1305.4" width="44.6" height="5.6"/>
<rect x="48.4" y="1555.2" width="44.6" height="5.6"/>
<text x="53.4" y="16.2" font-size="35" font-weight="normal" text-anchor="middle" >a.</text>
<text x="49.3" y="77.0" font-size="35" font-weight="normal" text-anchor="middle" >Pa</text>
<text x="49.5" y="900.5" font-size="35" font-weight="normal" text-anchor="middle" >Ba</text>
<text x="53.4" y="977.6" font-size="35" font-weight="normal" text-anchor="middle" >b.</text>
<text x="50.0" y="1038.9" font-size="35" font-weight="normal" text-anchor="middle" >Pa</text>
<text x="50.1" y="1862.5" font-size="35" font-weight="normal" text-anchor="middle" >Ba</text>
<text transform="translate(33.3,590.8) rotate(-90)" font-size="35.5" textLength="202.8" lengthAdjust="spacingAndGlyphs">Sarmatian <tspan font-style="italic">s. s.</tspan></text>
<text transform="translate(77.5,319.6) rotate(-90)" font-size="29.3" textLength="201.6" lengthAdjust="spacingAndGlyphs"><tspan font-style="italic">S. austriaca</tspan> Zone</text>
<text transform="translate(78.4,583.5) rotate(-90)" font-size="29.3" textLength="226.3" lengthAdjust="spacingAndGlyphs"><tspan font-style="italic">E. hauerinum</tspan> Zone</text>
<text transform="translate(77.8,819.7) rotate(-90)" font-size="29.3" textLength="193" lengthAdjust="spacingAndGlyphs"><tspan font-style="italic">E. reginum</tspan> Zone</text>
<text transform="translate(33.8,1552.6) rotate(-90)" font-size="35.5" textLength="201.3" lengthAdjust="spacingAndGlyphs">Sarmatian <tspan font-style="italic">s. s.</tspan></text>
<text transform="translate(77.8,1280.6) rotate(-90)" font-size="29.3" textLength="200.4" lengthAdjust="spacingAndGlyphs"><tspan font-style="italic">S. austriaca</tspan> Zone</text>
<text transform="translate(79.3,1543.9) rotate(-90)" font-size="29.3" textLength="223.3" lengthAdjust="spacingAndGlyphs"><tspan font-style="italic">E. hauerinum</tspan> Zone</text>
<text transform="translate(78.1,1781.5) rotate(-90)" font-size="29.3" textLength="192" lengthAdjust="spacingAndGlyphs"><tspan font-style="italic">E. reginum</tspan> Zone</text>
<text transform="translate(317.7,65.4) scale(1.03,1)" font-size="25.9" font-weight="bold">foraminifera</text>
<text transform="translate(904.6,67.0) scale(1.03,1)" font-size="25.9" font-weight="bold">ostracods</text>
<text x="606.3" y="25.6" font-size="32" font-weight="bold" text-anchor="start" >Mány-17</text>
<text x="610.7" y="980.0" font-size="32" font-weight="bold" text-anchor="start" >Mány-22</text>
<text transform="translate(316.9,1016.3) scale(1.03,1)" font-size="25.9" font-weight="bold">foraminifera</text>
<text transform="translate(901.0,1015.3) scale(1.03,1)" font-size="25.9" font-weight="bold">ostracods</text>
<text transform="translate(130.5,928.5) scale(1.03,1)" font-size="25.9" font-weight="bold">total species diversity</text>
<text transform="translate(422.6,927.3) scale(1.037,1)" font-size="25.9" font-weight="bold">Jaccard similarity</text>
<text transform="translate(694.8,926.1) scale(1.03,1)" font-size="25.9" font-weight="bold">total species diversity</text>
<text transform="translate(992.8,928.3) scale(1.037,1)" font-size="25.9" font-weight="bold">Jaccard similarity</text>
<text transform="translate(132.5,1877.1) scale(1.03,1)" font-size="25.9" font-weight="bold">total species diversity</text>
<text transform="translate(432.0,1877.0) scale(1.037,1)" font-size="25.9" font-weight="bold">Jaccard similarity</text>
<text transform="translate(693.8,1875.6) scale(1.03,1)" font-size="25.9" font-weight="bold">total species diversity</text>
<text transform="translate(997.2,1876.1) scale(1.037,1)" font-size="25.9" font-weight="bold">Jaccard similarity</text>
<text transform="translate(130.3,92.7) scale(1.06,1)" font-size="22.6" text-anchor="middle" stroke="#000" stroke-width="0.3">0</text>
<text transform="translate(194.5,92.7) scale(1.06,1)" font-size="22.6" text-anchor="middle" stroke="#000" stroke-width="0.3">5</text>
<text transform="translate(255.0,92.7) scale(1.06,1)" font-size="22.6" text-anchor="middle" stroke="#000" stroke-width="0.3">10</text>
<text transform="translate(313.7,92.7) scale(1.06,1)" font-size="22.6" text-anchor="middle" stroke="#000" stroke-width="0.3">15</text>
<text transform="translate(371.6,92.7) scale(1.06,1)" font-size="22.6" text-anchor="middle" stroke="#000" stroke-width="0.3">20</text>
<text transform="translate(411.5,91.8) scale(1.06,1)" font-size="22.6" text-anchor="middle" stroke="#000" stroke-width="0.3">0</text>
<text transform="translate(491.0,91.8) scale(1.06,1)" font-size="22.6" text-anchor="middle" stroke="#000" stroke-width="0.3">0.4</text>
<text transform="translate(580.0,91.8) scale(1.06,1)" font-size="22.6" text-anchor="middle" stroke="#000" stroke-width="0.3">0.8</text>
<text transform="translate(651.6,91.8) scale(1.06,1)" font-size="22.6" text-anchor="middle" stroke="#000" stroke-width="0.3">1.2</text>
<text transform="translate(693.3,92.0) scale(1.06,1)" font-size="22.6" text-anchor="middle" stroke="#000" stroke-width="0.3">0</text>
<text transform="translate(746.0,92.0) scale(1.06,1)" font-size="22.6" text-anchor="middle" stroke="#000" stroke-width="0.3">2</text>
<text transform="translate(787.4,92.0) scale(1.06,1)" font-size="22.6" text-anchor="middle" stroke="#000" stroke-width="0.3">4</text>
<text transform="translate(840.0,92.0) scale(1.06,1)" font-size="22.6" text-anchor="middle" stroke="#000" stroke-width="0.3">6</text>
<text transform="translate(887.5,92.0) scale(1.06,1)" font-size="22.6" text-anchor="middle" stroke="#000" stroke-width="0.3">8</text>
<text transform="translate(936.2,92.0) scale(1.06,1)" font-size="22.6" text-anchor="middle" stroke="#000" stroke-width="0.3">10</text>
<text transform="translate(974.5,92.8) scale(1.06,1)" font-size="22.6" text-anchor="middle" stroke="#000" stroke-width="0.3">0</text>
<text transform="translate(1027.5,92.8) scale(1.06,1)" font-size="22.6" text-anchor="middle" stroke="#000" stroke-width="0.3">2</text>
<text transform="translate(1086.8,92.8) scale(1.06,1)" font-size="22.6" text-anchor="middle" stroke="#000" stroke-width="0.3">4</text>
<text transform="translate(1109.8,92.8) scale(1.06,1)" font-size="22.6" text-anchor="middle" stroke="#000" stroke-width="0.3">5</text>
<text transform="translate(1163.7,92.8) scale(1.06,1)" font-size="22.6" text-anchor="middle" stroke="#000" stroke-width="0.3">7</text>
<text transform="translate(1216.4,92.8) scale(1.06,1)" font-size="22.6" text-anchor="middle" stroke="#000" stroke-width="0.3">9</text>
<text transform="translate(131.6,1046.4) scale(1.06,1)" font-size="22.6" text-anchor="middle" stroke="#000" stroke-width="0.3">0</text>
<text transform="translate(184.7,1046.4) scale(1.06,1)" font-size="22.6" text-anchor="middle" stroke="#000" stroke-width="0.3">4</text>
<text transform="translate(243.4,1046.4) scale(1.06,1)" font-size="22.6" text-anchor="middle" stroke="#000" stroke-width="0.3">8</text>
<text transform="translate(268.0,1046.4) scale(1.06,1)" font-size="22.6" text-anchor="middle" stroke="#000" stroke-width="0.3">10</text>
<text transform="translate(327.0,1046.4) scale(1.06,1)" font-size="22.6" text-anchor="middle" stroke="#000" stroke-width="0.3">14</text>
<text transform="translate(379.6,1046.4) scale(1.06,1)" font-size="22.6" text-anchor="middle" stroke="#000" stroke-width="0.3">18</text>
<text transform="translate(411.9,1047.0) scale(1.06,1)" font-size="22.6" text-anchor="middle" stroke="#000" stroke-width="0.3">0</text>
<text transform="translate(473.7,1047.0) scale(1.06,1)" font-size="22.6" text-anchor="middle" stroke="#000" stroke-width="0.3">0.2</text>
<text transform="translate(538.3,1047.0) scale(1.06,1)" font-size="22.6" text-anchor="middle" stroke="#000" stroke-width="0.3">0.4</text>
<text transform="translate(597.8,1047.0) scale(1.06,1)" font-size="22.6" text-anchor="middle" stroke="#000" stroke-width="0.3">0.6</text>
<text transform="translate(656.5,1047.0) scale(1.06,1)" font-size="22.6" text-anchor="middle" stroke="#000" stroke-width="0.3">0.8</text>
<text transform="translate(693.9,1047.3) scale(1.06,1)" font-size="22.6" text-anchor="middle" stroke="#000" stroke-width="0.3">0</text>
<text transform="translate(775.5,1047.3) scale(1.06,1)" font-size="22.6" text-anchor="middle" stroke="#000" stroke-width="0.3">4</text>
<text transform="translate(858.7,1047.3) scale(1.06,1)" font-size="22.6" text-anchor="middle" stroke="#000" stroke-width="0.3">8</text>
<text transform="translate(941.8,1047.3) scale(1.06,1)" font-size="22.6" text-anchor="middle" stroke="#000" stroke-width="0.3">12</text>
<text transform="translate(975.8,1047.5) scale(1.06,1)" font-size="22.6" text-anchor="middle" stroke="#000" stroke-width="0.3">0</text>
<text transform="translate(1055.6,1047.5) scale(1.06,1)" font-size="22.6" text-anchor="middle" stroke="#000" stroke-width="0.3">0.4</text>
<text transform="translate(1138.1,1047.5) scale(1.06,1)" font-size="22.6" text-anchor="middle" stroke="#000" stroke-width="0.3">0.8</text>
<text transform="translate(1221.5,1047.5) scale(1.06,1)" font-size="22.6" text-anchor="middle" stroke="#000" stroke-width="0.3">1.2</text>
</svg>
</body></html>
